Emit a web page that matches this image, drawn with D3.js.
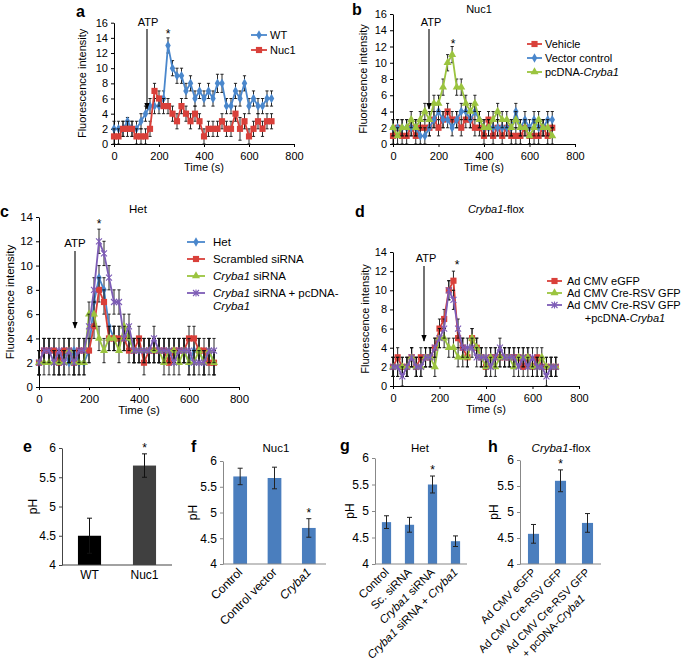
<!DOCTYPE html>
<html><head><meta charset="utf-8">
<script src="https://cdn.jsdelivr.net/npm/d3@7"></script>
<style>body{margin:0;background:#fff}svg{display:block}</style>
</head><body><svg id="chart" width="685" height="669"></svg>
<script>
// ---------- DATA ----------
const times = [0,20,40,60,80,100,120,140,160,180,200,220,240,260,280,300,320,340,360,380,400,420,440,460,480,500,520,540,560,580,600,620,640,660,680,700];
const timeTicks = [0,200,400,600,800];
const fluoTicks16 = [0,2,4,6,8,10,12,14,16];
const fluoTicks14 = [0,2,4,6,8,10,12,14];
const phTicks = [4,4.5,5,5.5,6];

// panel a
const aWT      = [2,2,2,3,2,2,3,4,5,5,5,6,13,10,9,9,7,8,6,7,6,7,6,8,8,5,5,7,6,8,5,6,5,5,6,6];
const aWTErr   = [1,1,1,0.5,1,1,1,1,1,1,1,1,1,1,1,1,1,1,1,1,1,1,1,1.2,1.2,1,1,1,1,1,1,1,1,1,1,1];
const aNuc1    = [1,1,2,2,2,1,1,1,2,7,6,5,5,4,3,5,4,3,4,3,1,2,2,2,3,2,2,4,2,3,1,2,3,2,3,3];
const aNuc1Err = [1,1,1,1,1,1,1,1,1,1,1,1,1,1,1,1,1,1,1,1,1,1,1,1,1,1,1,1,1.5,1,1,1,1,1,1,1];
// panel b
const bVehicle    = [1,2,1,1,2,1,2,2,2,3,2,3,4,3,3,2,3,3,2,2,1,3,1,2,1,2,1,1,1,2,1,1,1,2,1,2];
const bVehicleErr = [1,1,1,1,1,1,1,1,1,1,1,1,1,1,1,1,1,1,1,1,1,1,1,1,1,1,1,1,1,1,1,1,1,1,1,1];
const bVector     = [2,2,2,2,2,2,1,1,2,3,4,3,3,2,3,4,4,3,4,3,2,2,2,2,2,2,2,4,2,3,2,3,2,2,3,3];
const bVectorErr  = [1,1,1,1,1,1,1,1,1,1,1,1,1,1,1,1,1,1,1,1,1,1,1,1,1,1,1,1,1,1,1,1,1,1,1,1];
const bPcDNA      = [2,1,2,2,3,2,3,4,3,5,5,7,10,11,7,7,5,4,5,3,2,2,3,4,3,3,2,3,2,2,1,2,3,2,2,1];
const bPcDNAErr   = [1,1,1,1,1,1,1,1,1,1,1,1,1,1,1,1,1,1,1,1,1,1,1,1,1,1,1,1,1,1,1,1,1,1,1,1];
// panel c
const cHet      = [2,3,3,3,2,3,2,3,2,2,3,7,9,8,5,4,4,4,4,3,3,3,3,3,3,3,3,3,3,3,2,3,3,2,3,2];
const cHetErr   = [1,1,1,1,1,1,1,1,1,1,1,1,1,1,1,1,1,1,1,1,1,1,1,1,1,1,1,1,1,1,1,1,1,1,1,1];
const cScr      = [2,3,3,3,2,3,3,2,3,3,3,5,8,7,4,4,4,4,3,3,4,2,3,3,3,3,2,3,3,3,4,4,3,3,2,2];
const cScrErr   = [1,1,1,1,1,1,1,1,1,1,1,1,1,1,1,1,1,1,1,1,1,1,1,1,1,1,1,1,1,1,1,1,1,1,1,1];
const cSi       = [2,2,2,2,2,2,3,2,2,2,6,6,4,3,4,4,3,5,4,3,3,3,3,3,3,2,3,3,2,3,2,2,3,2,3,2];
const cSiErr    = [1,1,1,1,1,1,1,1,1,1,1,1,1,1,1,1,1,1,1,1,1,1,1,1,1,1,1,1,1,1,1,1,1,1,1,1];
const cRes      = [2,3,3,2,3,2,3,2,3,3,5,8,12,11,9,7,7,4,5,3,3,3,3,4,3,3,3,2,3,3,3,2,2,2,3,3];
const cResErr   = [1,1,1,1,1,1,1,1,1,1,1,1,1,1,1,1,1,1,1,1,1,1,1,1,1,1,1,1,1,1,1,1,1,1,1,1];
// panel d
const dEGFP     = [2,3,2,2,3,2,3,3,3,4,6,7,10,11,5,4,3,5,4,3,2,3,3,3,3,3,3,3,2,3,2,3,2,2,2,2];
const dEGFPErr  = [1,1,1,1,1,1,1,1,1,1,1,1,1,1,1,1,1,1,1,1,1,1,1,1,1,1,1,1,1,1,1,1,1,1,1,1];
const dCre      = [2,2,2,2,3,2,2,3,3,2,5,5,4,4,3,3,3,5,4,3,2,3,2,3,3,3,2,3,3,3,2,2,3,2,2,2];
const dCreErr   = [1,1,1,1,1,1,1,1,1,1,1,1,1,1,1,1,1,1,1,1,1,1,1,1,1,1,1,1,1,1,1,1,1,1,1,1];
const dRes      = [2,2,1,2,3,2,2,3,3,4,5,6,10,9,6,4,4,4,3,3,3,2,3,4,3,3,3,2,3,2,3,2,2,1,2,2];
const dResErr   = [1,1,1,1,1,1,1,1,1,1,1,1,1,1,1,1,1,1,1,1,1,1,1,1,1,1,1,1,1,1,1,1,1,1,1,1];
// bar panels
const eCats = ["WT","Nuc1"];
const eVals = [4.5,5.7];
const eErr  = [0.3,0.2];
const fCats = ["Control","Control vector","Cryba1"];
const fVals = [5.7,5.67,4.7];
const fErr  = [0.16,0.21,0.18];
const gCats = ["Control","Sc. siRNA","Cryba1 siRNA","Cryba1 siRNA + Cryba1"];
const gVals = [4.79,4.74,5.5,4.43];
const gErr  = [0.12,0.14,0.16,0.1];
const hCats = ["Ad CMV eGFP","Ad CMV Cre-RSV GFP","Ad CMV Cre-RSV GFP|+ pcDNA-Cryba1"];
const hVals = [4.58,5.6,4.79];
const hErr  = [0.18,0.21,0.18];

// ---------- STYLE ----------
const FONT = '"Liberation Sans", Arial, Helvetica, sans-serif';
const BLUE="#4a87cc", RED="#d9403a", GREEN="#9bc43f", PURPLE="#7d5cb6", BAR="#4a7ebe";
const svg = d3.select("#chart").attr("font-family", FONT);

function rich(sel, str){
  str.split(/(Cryba1)/).filter(s=>s.length).forEach(s=>{
    const t = sel.append("tspan").text(s);
    if(s==="Cryba1") t.attr("font-style","italic");
  });
  return sel;
}
function text(x,y,str,opts={}){
  const t = svg.append("text").attr("x",x).attr("y",y)
    .attr("font-size",opts.size||11).attr("fill","#000")
    .attr("text-anchor",opts.anchor||"start");
  if(opts.bold) t.attr("font-weight","bold");
  if(opts.rotate!=null) t.attr("transform",`rotate(${opts.rotate},${x},${y})`);
  rich(t,str);
  return t;
}
function drawMarker(g,type,color,cx,cy){
  if(type==="star"){
    g.append("path").attr("d",`M${cx-3},${cy-3}L${cx+3},${cy+3}M${cx-3},${cy+3}L${cx+3},${cy-3}M${cx},${cy-3.5}V${cy+3.5}`)
      .attr("stroke",color).attr("stroke-width",1.1).attr("fill","none");
    return;
  }
  const sym = type==="diamond"?d3.symbolDiamond:type==="square"?d3.symbolSquare:d3.symbolTriangle;
  const size = type==="diamond"?26:type==="square"?38:28;
  g.append("path").attr("d",d3.symbol(sym,size)()).attr("transform",`translate(${cx},${cy})`).attr("fill",color);
}
function styleAxis(a,size,color){
  a.select(".domain").attr("stroke",color);
  a.selectAll(".tick line").attr("stroke",color);
  a.selectAll(".tick text").attr("font-size",size).attr("font-family",FONT).attr("fill","#000");
}
svg.append("defs").append("marker").attr("id","arrow").attr("viewBox","0 0 10 10")
  .attr("refX",9).attr("refY",5).attr("markerWidth",6).attr("markerHeight",7).attr("orient","auto")
  .append("path").attr("d","M0,1L10,5L0,9Z").attr("fill","#000");

function linePanel(o){
  const g = svg.append("g");
  const x = d3.scaleLinear().domain([0,800]).range([o.x0,o.x1]);
  const y = d3.scaleLinear().domain([0,o.yMax]).range([o.yb,o.yt]);
  const ax = g.append("g").attr("transform",`translate(0,${o.yb})`)
    .call(d3.axisBottom(x).tickValues(timeTicks).tickSize(3).tickSizeOuter(0).tickPadding(5));
  const ay = g.append("g").attr("transform",`translate(${o.x0},0)`)
    .call(d3.axisLeft(y).tickValues(o.yTicks).tickSize(3).tickSizeOuter(0).tickPadding(3));
  styleAxis(ax,o.fs,"#000"); styleAxis(ay,o.fs,"#000");
  o.series.forEach(s=>{
    const sg = g.append("g");
    s.vals.forEach((v,i)=>{
      const cx=x(times[i]), lo=y(Math.max(0,v-s.errs[i])), hi=y(v+s.errs[i]);
      sg.append("path").attr("d",`M${cx},${lo}V${hi}M${cx-1.6},${hi}H${cx+1.6}M${cx-1.6},${lo}H${cx+1.6}`)
        .attr("stroke","#111").attr("stroke-width",0.9).attr("fill","none");
    });
    sg.append("path").datum(s.vals)
      .attr("d",d3.line().x((d,i)=>x(times[i])).y(d=>y(d)))
      .attr("stroke",s.color).attr("stroke-width",1.8).attr("fill","none");
    s.vals.forEach((v,i)=>drawMarker(sg,s.marker,s.color,x(times[i]),y(v)));
  });
  text(o.ylx,(o.yt+o.yb)/2,"Fluorescence intensity",{size:o.fs,anchor:"middle",rotate:-90}).attr("dy","0.35em");
  text((o.x0+o.x1)/2,o.yb+27,"Time (s)",{size:o.fs,anchor:"middle"});
  text(o.atpX,o.atpY,"ATP",{size:o.fs,anchor:"middle"});
  g.append("line").attr("x1",o.arrX).attr("x2",o.arrX).attr("y1",o.arrY0).attr("y2",o.arrY1)
    .attr("stroke","#000").attr("stroke-width",1.1).attr("marker-end","url(#arrow)");
  text(o.starX,o.starY,"*",{size:12,anchor:"middle"});
  o.legend.forEach((l,i)=>{
    const ly=o.legY[i];
    g.append("line").attr("x1",o.legX0).attr("x2",o.legX1).attr("y1",ly).attr("y2",ly).attr("stroke",l.color).attr("stroke-width",1.8);
    drawMarker(g,l.marker,l.color,(o.legX0+o.legX1)/2,ly);
    text(o.legTX,ly,l.label,{size:o.fs}).attr("dy","0.35em");
  });
  return {x,y};
}

// panel a
linePanel({x0:114,x1:294,yb:144,yt:22.7,yMax:16,yTicks:fluoTicks16,fs:11,ylx:82,
  atpX:148,atpY:26,arrX:147,arrY0:29,arrY1:109,starX:168,starY:38,
  series:[{vals:aWT,errs:aWTErr,color:BLUE,marker:"diamond"},{vals:aNuc1,errs:aNuc1Err,color:RED,marker:"square"}],
  legend:[{label:"WT",color:BLUE,marker:"diamond"},{label:"Nuc1",color:RED,marker:"square"}],
  legY:[35,50],legX0:251,legX1:267,legTX:270});
text(76,17,"a",{size:16,bold:true});

// panel b
linePanel({x0:393,x1:575,yb:144,yt:14,yMax:16,yTicks:fluoTicks16,fs:11,ylx:363,
  atpX:431,atpY:26,arrX:429,arrY0:29,arrY1:109,starX:453,starY:48,
  series:[{vals:bVehicle,errs:bVehicleErr,color:RED,marker:"square"},{vals:bVector,errs:bVectorErr,color:BLUE,marker:"diamond"},{vals:bPcDNA,errs:bPcDNAErr,color:GREEN,marker:"triangle"}],
  legend:[{label:"Vehicle",color:RED,marker:"square"},{label:"Vector control",color:BLUE,marker:"diamond"},{label:"pcDNA-Cryba1",color:GREEN,marker:"triangle"}],
  legY:[44,58,72],legX0:527,legX1:542,legTX:545});
text(352,15,"b",{size:16,bold:true});
text(479,13,"Nuc1",{size:11,anchor:"middle"});

// panel c
linePanel({x0:39,x1:239,yb:387,yt:217,yMax:14,yTicks:fluoTicks14,fs:11.5,ylx:10,
  atpX:75,atpY:247,arrX:75,arrY0:251,arrY1:328,starX:99,starY:228,
  series:[{vals:cHet,errs:cHetErr,color:BLUE,marker:"diamond"},{vals:cScr,errs:cScrErr,color:RED,marker:"square"},{vals:cSi,errs:cSiErr,color:GREEN,marker:"triangle"},{vals:cRes,errs:cResErr,color:PURPLE,marker:"star"}],
  legend:[{label:"Het",color:BLUE,marker:"diamond"},{label:"Scrambled siRNA",color:RED,marker:"square"},{label:"Cryba1 siRNA",color:GREEN,marker:"triangle"},{label:"Cryba1 siRNA + pcDNA-",color:PURPLE,marker:"star"}],
  legY:[242,259,276,293],legX0:187,legX1:205,legTX:213});
text(213,306,"Cryba1",{size:11.5}).attr("dy","0.35em");
text(0,217,"c",{size:16,bold:true});
text(138,213,"Het",{size:11.5,anchor:"middle"});

// panel d
linePanel({x0:393,x1:579,yb:386,yt:252,yMax:14,yTicks:fluoTicks14,fs:11,ylx:365,
  atpX:426,atpY:262,arrX:424,arrY0:266,arrY1:341,starX:457,starY:269,
  series:[{vals:dEGFP,errs:dEGFPErr,color:RED,marker:"square"},{vals:dCre,errs:dCreErr,color:GREEN,marker:"triangle"},{vals:dRes,errs:dResErr,color:PURPLE,marker:"star"}],
  legend:[{label:"Ad CMV eGFP",color:RED,marker:"square"},{label:"Ad CMV Cre-RSV GFP",color:GREEN,marker:"triangle"},{label:"Ad CMV Cre-RSV GFP",color:PURPLE,marker:"star"}],
  legY:[281,293,305],legX0:547,legX1:562,legTX:567});
text(625,318,"+pcDNA-Cryba1",{size:11,anchor:"middle"}).attr("dy","0.35em");
text(355,217,"d",{size:16,bold:true});
text(496,213,"Cryba1-flox",{size:11,anchor:"middle"});

// ---------- BAR PANELS ----------
function barPanel(o){
  const g = svg.append("g");
  const x = d3.scaleBand().domain(o.cats).range([o.x0,o.x1]).paddingInner(o.pad).paddingOuter(o.pad/2);
  const y = d3.scaleLinear().domain([4,6]).range([o.yb,o.yt]);
  g.selectAll("rect.bar").data(o.vals).join("rect").attr("class","bar")
    .attr("x",(d,i)=>x(o.cats[i])).attr("width",x.bandwidth())
    .attr("y",d=>y(d)).attr("height",d=>o.yb-y(d))
    .attr("fill",(d,i)=>o.colors[i]);
  o.vals.forEach((v,i)=>{
    const cx=x(o.cats[i])+x.bandwidth()/2, lo=y(v-o.errs[i]), hi=y(v+o.errs[i]);
    g.append("path").attr("d",`M${cx},${lo}V${hi}M${cx-2.5},${hi}H${cx+2.5}M${cx-2.5},${lo}H${cx+2.5}`)
      .attr("stroke",o.errColor).attr("stroke-width",1).attr("fill","none");
  });
  const ay = g.append("g").attr("transform",`translate(${o.x0},0)`)
    .call(d3.axisLeft(y).tickValues(phTicks).tickFormat(d=>String(d)).tickSize(3).tickSizeOuter(0).tickPadding(3));
  styleAxis(ay,o.fs,o.axisColor);
  g.append("line").attr("x1",o.x0).attr("x2",o.x1).attr("y1",o.yb).attr("y2",o.yb).attr("stroke",o.axisColor).attr("stroke-width",1.2);
  text(o.ylx,(o.yt+o.yb)/2,"pH",{size:12,anchor:"middle",rotate:-90}).attr("dy","0.35em");
  o.cats.forEach((c,i)=>{
    const cx=x(c)+x.bandwidth()/2;
    if(o.rotate){
      c.split("|").forEach((ln,k)=>{
        const t=svg.append("text").attr("font-size",o.lfs).attr("text-anchor","end")
          .attr("transform",`translate(${cx+3},${o.yb+9}) rotate(-45)`);
        if(k){ t.attr("dx",-22*k).attr("dy",15*k); }
        rich(t,ln);
      });
    } else {
      text(cx,o.yb+14,c,{size:o.lfs,anchor:"middle"});
    }
  });
  if(o.star!=null){
    const i=o.star, cx=x(o.cats[i])+x.bandwidth()/2;
    text(cx,y(o.vals[i]+o.errs[i])-2,"*",{size:12,anchor:"middle"});
  }
}
barPanel({cats:eCats,vals:eVals,errs:eErr,colors:["#000","#404040"],x0:62,x1:172,yb:565,yt:448,pad:0.58,
  fs:12,lfs:12,axisColor:"#444",errColor:"#111",ylx:33,rotate:false,star:1});
text(23,452,"e",{size:16,bold:true});

barPanel({cats:fCats,vals:fVals,errs:fErr,colors:[BAR,BAR,BAR],x0:223,x1:326,yb:564,yt:461,pad:0.6,
  fs:12,lfs:12,axisColor:"#888",errColor:"#222",ylx:193,rotate:true,star:2});
text(191,452,"f",{size:16,bold:true});
text(276,452,"Nuc1",{size:11.5,anchor:"middle"});

barPanel({cats:gCats,vals:gVals,errs:gErr,colors:[BAR,BAR,BAR,BAR],x0:375,x1:467,yb:564,yt:458,pad:0.6,
  fs:12,lfs:11.5,axisColor:"#888",errColor:"#222",ylx:350,rotate:true,star:2});
text(340,451,"g",{size:16,bold:true});
text(420,452,"Het",{size:11.5,anchor:"middle"});

barPanel({cats:hCats,vals:hVals,errs:hErr,colors:[BAR,BAR,BAR],x0:520,x1:601,yb:564,yt:460,pad:0.59,
  fs:12,lfs:11,axisColor:"#888",errColor:"#222",ylx:494,rotate:true,star:1});
text(488,452,"h",{size:16,bold:true});
text(561,452,"Cryba1-flox",{size:11.5,anchor:"middle"});
</script></body></html>
